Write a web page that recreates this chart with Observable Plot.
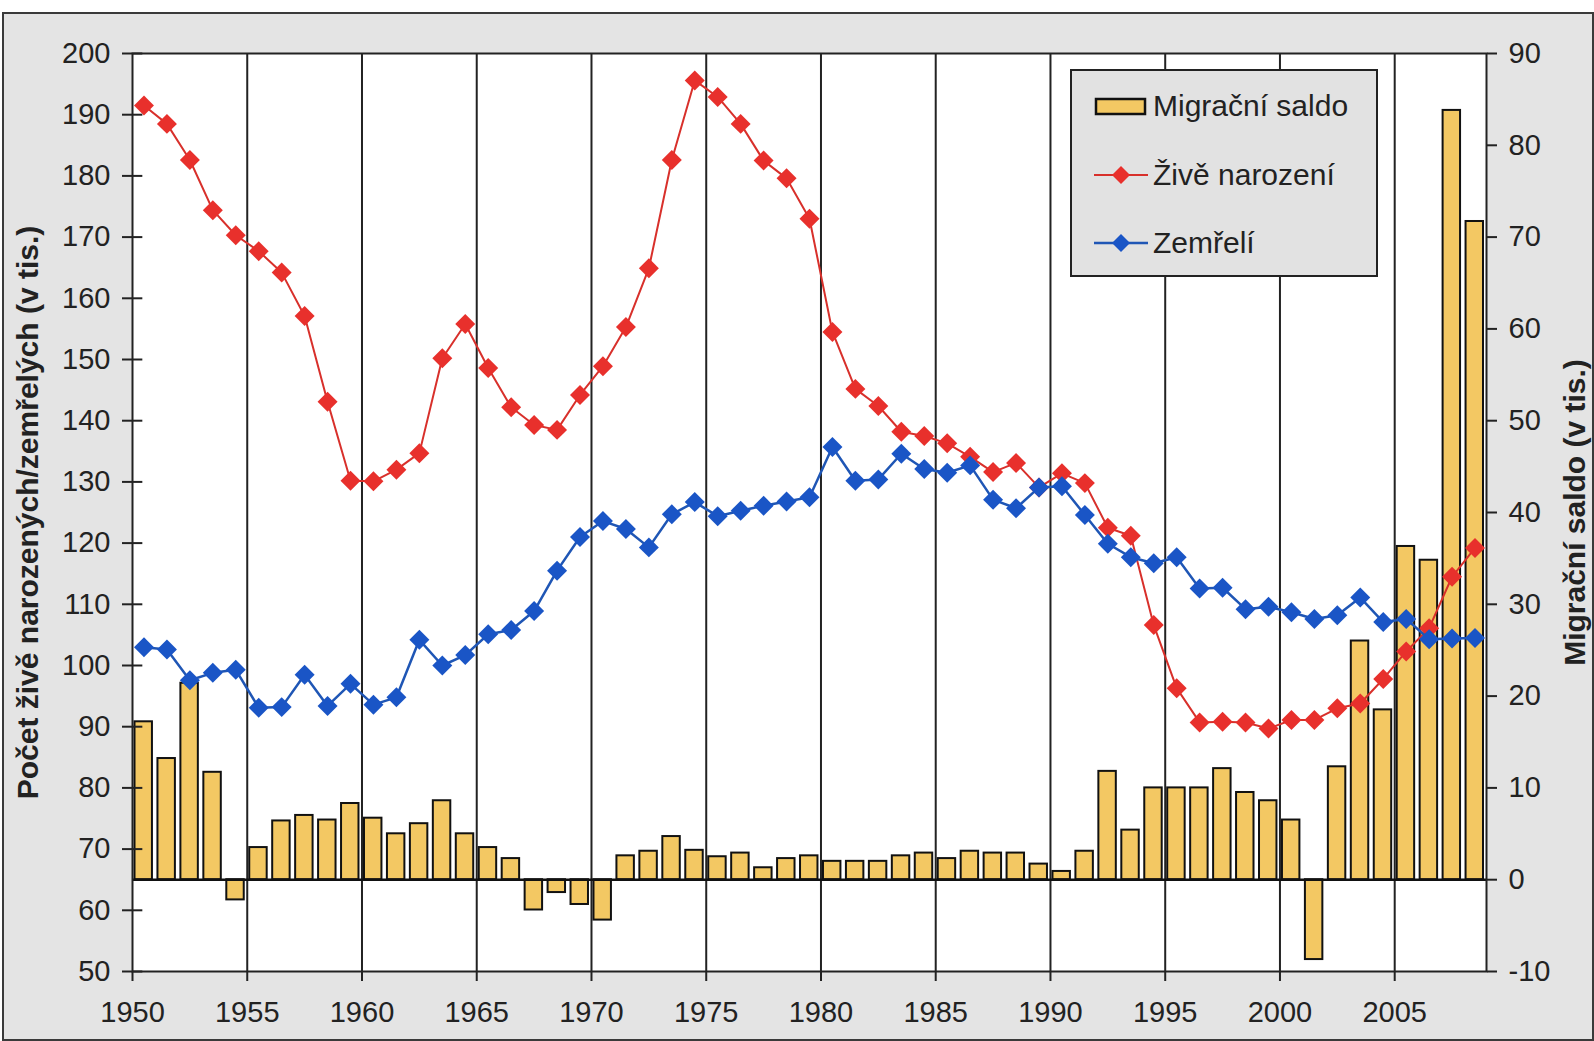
<!DOCTYPE html>
<html>
<head>
<meta charset="utf-8">
<script src="https://cdn.jsdelivr.net/npm/d3@7"></script>
<script src="https://cdn.jsdelivr.net/npm/@observablehq/plot@0.6"></script>
<style>
  html, body { margin: 0; padding: 0; background: #ffffff; }
  #wrap { position: relative; width: 1594px; height: 1041px; font-family: "Liberation Sans", Arial, sans-serif; }
  #frame { position: absolute; left: 2px; top: 12px; width: 1588px; height: 1025px; background: #e4e4e4; border: 2px solid #3a3a3a; }
  #chart { position: absolute; left: 0; top: 0; }
  #legend { position: absolute; left: 1070px; top: 69px; width: 308px; height: 208px; background: #e2e2e2; border: 2px solid #222; box-sizing: border-box; }
  .row { position: absolute; left: 22px; height: 34px; display: flex; align-items: center; font-size: 30px; color: #222; white-space: nowrap; }
  .row svg { margin-right: 5px; }
</style>
</head>
<body>
<div id="wrap">
  <div id="frame"></div>
  <div id="chart"></div>
  <div id="legend">
    <div class="row" style="top:18px"><svg width="54" height="24"><rect x="2" y="5" width="49" height="15" fill="#f3c863" stroke="#111" stroke-width="2.5"/></svg>Migrační saldo</div>
    <div class="row" style="top:87px"><svg width="54" height="24"><line x1="0" y1="12" x2="54" y2="12" stroke="#d8302b" stroke-width="2"/><path d="M27 3 L36 12 L27 21 L18 12 Z" fill="#e8302c"/></svg>Živě narození</div>
    <div class="row" style="top:155px"><svg width="54" height="24"><line x1="0" y1="12" x2="54" y2="12" stroke="#1f56b5" stroke-width="2.5"/><path d="M27 3 L36 12 L27 21 L18 12 Z" fill="#1a55c6"/></svg>Zemřelí</div>
  </div>
</div>
<script>
const years = d3.range(1950, 2009);

const births = [
  191.5, 188.5, 182.6, 174.4, 170.3, 167.7, 164.2, 157.1, 143.1, 130.2,
  130.1, 132.0, 134.7, 150.2, 155.8, 148.6, 142.2, 139.3, 138.5, 144.2,
  148.9, 155.3, 164.9, 182.6, 195.6, 192.9, 188.5, 182.5, 179.6, 173.0,
  154.5, 145.2, 142.4, 138.2, 137.5, 136.3, 134.1, 131.6, 133.1, 129.1,
  131.4, 129.8, 122.5, 121.2, 106.6, 96.3, 90.7, 90.8, 90.7, 89.7,
  91.1, 91.1, 93.0, 93.8, 97.8, 102.3, 106.1, 114.5, 119.2
];

const deaths = [
  103.0, 102.6, 97.6, 98.8, 99.3, 93.1, 93.2, 98.5, 93.4, 97.0,
  93.6, 94.8, 104.2, 100.0, 101.7, 105.1, 105.8, 108.9, 115.5, 121.0,
  123.6, 122.3, 119.3, 124.7, 126.7, 124.4, 125.3, 126.1, 126.8, 127.5,
  135.7, 130.2, 130.4, 134.6, 132.1, 131.5, 132.7, 127.1, 125.7, 129.1,
  129.3, 124.6, 119.9, 117.7, 116.7, 117.7, 112.6, 112.7, 109.2, 109.6,
  108.7, 107.6, 108.2, 111.1, 107.1, 107.6, 104.3, 104.4, 104.5
];

const migration = [
  17.2, 13.2, 21.4, 11.7, -2.2, 3.5, 6.4, 7.0, 6.5, 8.3,
  6.7, 5.0, 6.1, 8.6, 5.0, 3.5, 2.3, -3.3, -1.4, -2.7,
  -4.4, 2.6, 3.1, 4.7, 3.2, 2.5, 2.9, 1.3, 2.3, 2.6,
  2.0, 2.0, 2.0, 2.6, 2.9, 2.3, 3.1, 2.9, 2.9, 1.7,
  0.9, 3.1, 11.8, 5.4, 10.0, 10.0, 10.0, 12.1, 9.5, 8.6,
  6.5, -8.7, 12.3, 26.0, 18.5, 36.3, 34.8, 83.8, 71.7
];

const leftTicks = d3.range(50, 201, 10);
const rightTicks = d3.range(-10, 91, 10);
const xTicks = d3.range(1950, 2006, 5);

// right axis (migration) mapped onto left axis: left = 65 + 1.5 * right
const toLeft = v => 65 + 1.5 * v;

const data = years.map((y, i) => ({year: y, births: births[i], deaths: deaths[i], migration: migration[i]}));

const font = "Liberation Sans, Arial, sans-serif";

const chart = Plot.plot({
  width: 1594,
  height: 1041,
  marginLeft: 132,
  marginRight: 108,
  marginTop: 53,
  marginBottom: 70,
  style: {fontFamily: font, fontSize: "29px", color: "#222", background: "transparent", overflow: "visible"},
  x: {domain: [1950, 2009]},
  y: {domain: [50, 200]},
  marks: [
    Plot.frame({fill: "white", stroke: "none"}),
    Plot.ruleX(xTicks.slice(1), {stroke: "#222", strokeWidth: 2}),
    Plot.rectY(data, {
      x1: "year", x2: d => d.year + 1,
      y1: 65, y2: d => toLeft(d.migration),
      fill: "#f3c863", stroke: "#111", strokeWidth: 2,
      insetLeft: 2.5, insetRight: 3
    }),
    Plot.ruleY([65], {stroke: "#111", strokeWidth: 2.5}),
    Plot.line(data, {x: d => d.year + 0.5, y: "births", stroke: "#d8302b", strokeWidth: 2}),
    Plot.dot(data, {x: d => d.year + 0.5, y: "births", symbol: "diamond2", r: 9, fill: "#e8302c", stroke: "none"}),
    Plot.line(data, {x: d => d.year + 0.5, y: "deaths", stroke: "#1f56b5", strokeWidth: 2.5}),
    Plot.dot(data, {x: d => d.year + 0.5, y: "deaths", symbol: "diamond2", r: 9, fill: "#1a55c6", stroke: "none"}),
    // inner half of the crossing left ticks
    Plot.ruleY(leftTicks, {x1: 1950, x2: 1950.45, stroke: "#222", strokeWidth: 2}),
    Plot.frame({stroke: "#222", strokeWidth: 2}),
    Plot.axisY({
      anchor: "left", ticks: leftTicks, tickSize: 10, tickPadding: 12, tickFormat: d => d,
      stroke: "#222", strokeWidth: 2, fontSize: 29,
      label: "Počet živě narozených/zemřelých (v tis.)", labelAnchor: "center", labelArrow: "none", labelOffset: 116
    }),
    Plot.axisY({
      anchor: "right", ticks: rightTicks.map(toLeft), tickSize: 10, tickPadding: 12,
      tickFormat: d => Math.round((d - 65) / 1.5),
      stroke: "#222", strokeWidth: 2, fontSize: 29,
      label: "Migrační saldo (v tis.)", labelAnchor: "center", labelArrow: "none", labelOffset: 98
    }),
    Plot.axisX({
      ticks: xTicks, tickSize: 10, tickPadding: 20, tickFormat: d => String(d),
      stroke: "#222", strokeWidth: 2, fontSize: 29, label: null
    })
  ]
});

d3.select(chart).selectAll("g[aria-label='y-axis label'] text")
  .style("font-weight", "bold").style("font-size", "30px");

document.getElementById("chart").appendChild(chart);
</script>
</body>
</html>
